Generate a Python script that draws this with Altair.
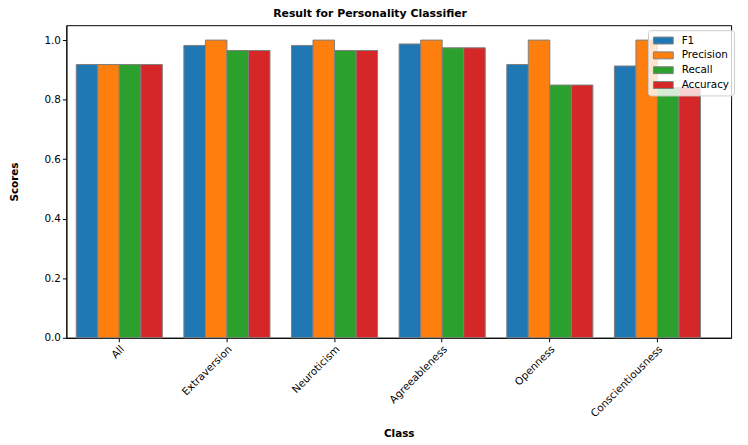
import altair as alt
import pandas as pd

classes = ["All", "Extraversion", "Neuroticism", "Agreeableness", "Openness", "Conscientiousness"]
metrics = ["F1", "Precision", "Recall", "Accuracy"]
f1 = [0.918, 0.982, 0.982, 0.987, 0.918, 0.913]
precision = [0.918, 1.0, 1.0, 1.0, 1.0, 1.0]
recall = [0.918, 0.965, 0.965, 0.974, 0.849, 0.841]
accuracy = [0.918, 0.965, 0.965, 0.974, 0.849, 0.841]
colors = ["#1f77b4", "#ff7f0e", "#2ca02c", "#d62728"]

rows = []
for series, vals in zip(metrics, [f1, precision, recall, accuracy]):
    for c, v in zip(classes, vals):
        rows.append({"Class": c, "Metric": series, "Score": v})
df = pd.DataFrame(rows)

font = "DejaVu Sans"

chart = alt.Chart(df).mark_bar(stroke="#808080", strokeWidth=1).encode(
    x=alt.X("Class:N", sort=classes, title="Class",
            scale=alt.Scale(paddingInner=0.2, paddingOuter=0.188, align=0.244),
            axis=alt.Axis(labelAngle=-45, labelAlign="right", labelBaseline="top",
                          labelFontSize=10.5, labelFont=font, labelColor="black",
                          tickColor="black", tickSize=4, domainColor="black",
                          titleFont=font, titleFontSize=10.5, titleFontWeight="bold",
                          titleColor="black", titlePadding=10, labelPadding=2)),
    xOffset=alt.XOffset("Metric:N", sort=metrics, scale=alt.Scale(paddingInner=0, paddingOuter=0)),
    y=alt.Y("Score:Q", title="Scores",
            scale=alt.Scale(domain=[0, 1.05], nice=False, zero=True),
            axis=alt.Axis(values=[0, 0.2, 0.4, 0.6, 0.8, 1.0], format=".1f", grid=False,
                          labelFontSize=10.5, labelFont=font, labelColor="black",
                          tickColor="black", tickSize=4, domainColor="black",
                          titleFont=font, titleFontSize=10.5, titleFontWeight="bold",
                          titleColor="black", titlePadding=25)),
    color=alt.Color("Metric:N", sort=metrics,
                    scale=alt.Scale(domain=metrics, range=colors),
                    legend=alt.Legend(title=None, orient="none", legendX=588, legendY=5,
                                      symbolType="M-2,-0.7H2V0.7H-2Z", symbolSize=100,
                                      symbolStrokeColor="#808080", symbolStrokeWidth=1,
                                      labelFont=font, labelFontSize=10.5, labelColor="black",
                                      fillColor="rgba(255,255,255,0.8)", strokeColor="#cccccc",
                                      cornerRadius=3, padding=5, rowPadding=4,
                                      labelOffset=13, symbolOffset=5)),
).properties(
    width=672, height=316,
    title=alt.TitleParams("Result for Personality Classifier", font=font, fontSize=11,
                          fontWeight="bold", color="black", offset=6, dx=-29),
    autosize=alt.AutoSizeParams(type="none"),
    padding={"left": 59, "top": 15, "right": 9, "bottom": 106},
).configure_view(stroke="black", strokeWidth=1)

chart.save("out.html", embed_options={"renderer": "svg", "actions": False})
